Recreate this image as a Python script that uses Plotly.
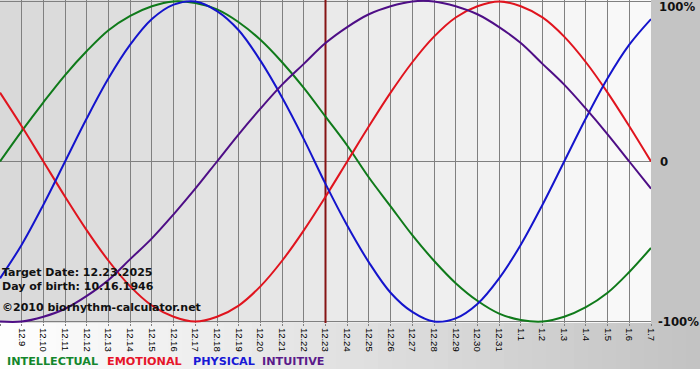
import plotly.graph_objects as go

# ---------------- data ----------------
dates = ["12.8", "12.9", "12.10", "12.11", "12.12", "12.13", "12.14", "12.15",
         "12.16", "12.17", "12.18", "12.19", "12.20", "12.21", "12.22", "12.23",
         "12.24", "12.25", "12.26", "12.27", "12.28", "12.29", "12.30", "12.31",
         "1.1", "1.2", "1.3", "1.4", "1.5", "1.6", "1.7"]

intellectual = [0, 19, 37, 54, 69, 82, 91, 97, 100, 99, 95, 87, 76, 62, 46, 28,
                10, -10, -28, -46, -62, -76, -87, -95, -99, -100, -97, -91, -82, -69, -54]
emotional = [43, 22, 0, -22, -43, -62, -78, -90, -97, -100, -97, -90, -78, -62, -43, -22,
             0, 22, 43, 62, 78, 90, 97, 100, 97, 90, 78, 62, 43, 22, 0]
physical = [-73, -52, -27, 0, 27, 52, 73, 89, 98, 100, 94, 82, 63, 40, 14, -14,
            -40, -63, -82, -94, -100, -98, -89, -73, -52, -27, 0, 27, 52, 73, 89]
intuitive = [-100, -100, -97, -92, -84, -74, -61, -48, -33, -17, 0, 17, 33, 48, 61, 74,
             84, 92, 97, 100, 100, 97, 92, 84, 74, 61, 48, 33, 17, 0, -17]

series_names = ["INTELLECTUAL", "EMOTIONAL", "PHYSICAL", "INTUITIVE"]
target_date = "12.23"
info_lines = ["Target Date: 12.23.2025", "Day of birth: 10.16.1946",
              "©2010 biorhythm-calculator.net"]
y_ticks = [100, 0, -100]
y_tick_labels = ["100%", "0", "-100%"]

# ---------------- styling ----------------
W, H = 700, 380
L, R, T, B = 0, 49, 0, 57
PW, PH = W - L - R, H - T - B
Y_MIN, Y_MAX = -100.9, 100.9

colors = {"INTELLECTUAL": "#0f7a1a", "EMOTIONAL": "#e0141e",
          "PHYSICAL": "#1414cc", "INTUITIVE": "#4e0e86"}
legend_colors = {"INTELLECTUAL": "#13872c", "EMOTIONAL": "#e6142a",
                 "PHYSICAL": "#1818d6", "INTUITIVE": "#5a1a8a"}
series = {"INTELLECTUAL": intellectual, "EMOTIONAL": emotional,
          "PHYSICAL": physical, "INTUITIVE": intuitive}


def px(x):
    return (x - L) / PW


def py(y):
    return (H - B - y) / PH


def grey(v):
    v = int(round(v))
    return f"rgb({v},{v},{v})"


xs = list(range(len(dates)))
n_int = len(dates) - 1

fig = go.Figure()

# target date vertical line
ti = dates.index(target_date)
fig.add_trace(go.Scatter(x=[ti, ti], y=[Y_MIN, Y_MAX], mode="lines",
                         line=dict(color="#861414", width=2),
                         hoverinfo="skip", showlegend=False))

for name in series_names:
    fig.add_trace(go.Scatter(x=xs, y=series[name], mode="lines", name=name,
                             line=dict(color=colors[name], width=2,
                                       shape="spline", smoothing=1.0),
                             hoverinfo="skip", showlegend=False))

shapes = []
# plot area gradient (per-day columns)
for i in range(n_int):
    v = 216 + (250 - 216) * (i + 0.5) / n_int
    shapes.append(dict(type="rect", xref="paper", yref="paper",
                       x0=i / n_int, x1=(i + 1) / n_int, y0=0, y1=1,
                       fillcolor=grey(v), line=dict(width=0), layer="below"))
# right panel
shapes.append(dict(type="rect", xref="paper", yref="paper",
                   x0=1, x1=px(W), y0=0, y1=1,
                   fillcolor=grey(196), line=dict(width=0), layer="below"))
# bottom band gradient
NB = 50
for i in range(NB):
    x0 = W * i / NB
    x1 = W * (i + 1) / NB + 0.6
    v = 255 - (255 - 194) * (i + 0.5) / NB
    shapes.append(dict(type="rect", xref="paper", yref="paper",
                       x0=px(x0), x1=px(x1), y0=py(369), y1=0,
                       fillcolor=grey(v), line=dict(width=0), layer="below"))

annotations = []
label_pos = [(658, 7), (659, 162), (657, 322)]
for (lx, ly), txt in zip(label_pos, y_tick_labels):
    annotations.append(dict(xref="paper", yref="paper", x=px(lx), y=py(ly),
                            xanchor="left", yanchor="middle", showarrow=False,
                            text=f"<b>{txt}</b>", borderpad=0,
                            font=dict(family="DejaVu Sans", size=11.7, color="#111111")))

for txt, ly in zip(info_lines, [272, 286, 307]):
    annotations.append(dict(xref="paper", yref="paper", x=px(1), y=py(ly),
                            xanchor="left", yanchor="middle", showarrow=False,
                            text=f"<b>{txt}</b>", borderpad=0,
                            font=dict(family="DejaVu Sans", size=11, color="#111111")))

for name, lx in zip(series_names, [6, 106, 192, 261]):
    annotations.append(dict(xref="paper", yref="paper", x=px(lx), y=py(361.5),
                            xanchor="left", yanchor="middle", showarrow=False,
                            text=f"<b>{name}</b>", borderpad=0,
                            font=dict(family="DejaVu Sans", size=11.2,
                                      color=legend_colors[name])))

fig.update_layout(
    width=W, height=H,
    margin=dict(l=L, r=R, t=T, b=B, pad=0),
    paper_bgcolor="white",
    plot_bgcolor="rgba(0,0,0,0)",
    showlegend=False,
    hovermode=False,
    shapes=shapes,
    annotations=annotations,
    xaxis=dict(range=[0, n_int], tickmode="array", tickvals=xs, ticktext=dates,
               tickangle=90, tickfont=dict(family="Liberation Sans", size=9.5, color="#000000"),
               ticks="outside", ticklen=2, tickcolor="#808080", tickwidth=1,
               showgrid=True, gridcolor="#808080", gridwidth=1,
               zeroline=False, showline=False, fixedrange=True),
    yaxis=dict(range=[Y_MIN, Y_MAX], tickmode="array", tickvals=y_ticks,
               showticklabels=False, ticks="",
               showgrid=True, gridcolor="#808080", gridwidth=1,
               zeroline=False, showline=False, fixedrange=True),
)

fig.write_html("out.html", config={"displayModeBar": False},
               post_script="document.body.style.margin='0';document.body.style.overflow='hidden';")
